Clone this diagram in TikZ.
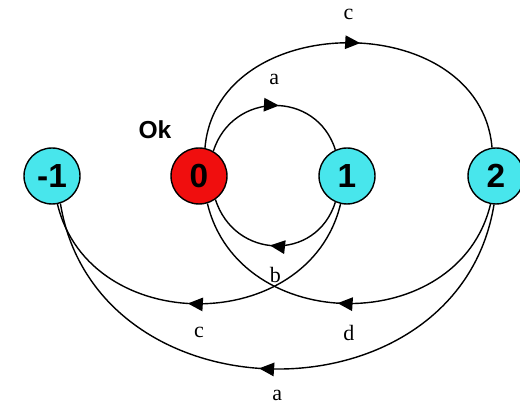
\documentclass[tikz,border=0pt]{standalone}
\usepackage{fontspec}
\setmainfont{Liberation Serif}
\setsansfont{Liberation Sans}
\usetikzlibrary{arrows.meta,decorations.markings}

\definecolor{estcian}{RGB}{72,230,236}
\definecolor{estrojo}{RGB}{240,14,14}

\begin{document}
\begin{tikzpicture}[x=0.02cm, y=0.02cm,
        estado/.style={circle, draw, line width=0.8pt, minimum size=1.12cm, inner sep=0pt,
            font=\sffamily\bfseries\fontsize{19}{22}\selectfont},
        etiq/.style={font=\fontsize{12.5}{14}\selectfont, inner sep=0pt},
        flecha/.style={line width=0.8pt, postaction={decorate, decoration={markings,
            mark=at position 0.53 with {\arrow{Triangle[length=0.3cm, width=0.27cm]}}}}}]
        % Marco de la figura
        \useasboundingbox (0,0) rectangle (520,405);

        % Estados
        \node[estado, fill=estcian] (m1) at (52,229) {-1};
        \node[estado, fill=estrojo] (n0) at (199,229) {0};
        \node[estado, fill=estcian] (n1) at (347,229) {1};
        \node[estado, fill=estcian] (n2) at (496,229) {2};

        % Estado inicial
        \node[font=\sffamily\bfseries\fontsize{14}{16}\selectfont] (ok) at (155,275) {Ok};

        % Arcos superiores
        \draw[flecha] (n0.60) .. controls +(19,60) and +(-19,60) .. (n1.114)
            node[etiq, midway, yshift=0.52cm] {a};
        \draw[flecha] (n0.78) .. controls +(12,140) and +(-12,140) .. (n2.98)
            node[etiq, midway, yshift=0.56cm] {c};

        % Arcos inferiores
        \draw[flecha] (n1.246) .. controls +(-19,-60) and +(19,-60) .. (n0.305)
            node[etiq, midway, yshift=-0.58cm] {b};
        \draw[flecha] (n1.257) .. controls +(-32,-133) and +(32,-133) .. (m1.281)
            node[etiq, midway, yshift=-0.58cm] {c};
        \draw[flecha] (n2.259) .. controls +(-32,-133) and +(32,-133) .. (n0.287)
            node[etiq, midway, yshift=-0.58cm] {d};
        \draw[flecha] (n2.266) .. controls +(-36,-220) and +(36,-220) .. (m1.287)
            node[etiq, midway, yshift=-0.52cm] {a};

    \end{tikzpicture}
\end{document}
